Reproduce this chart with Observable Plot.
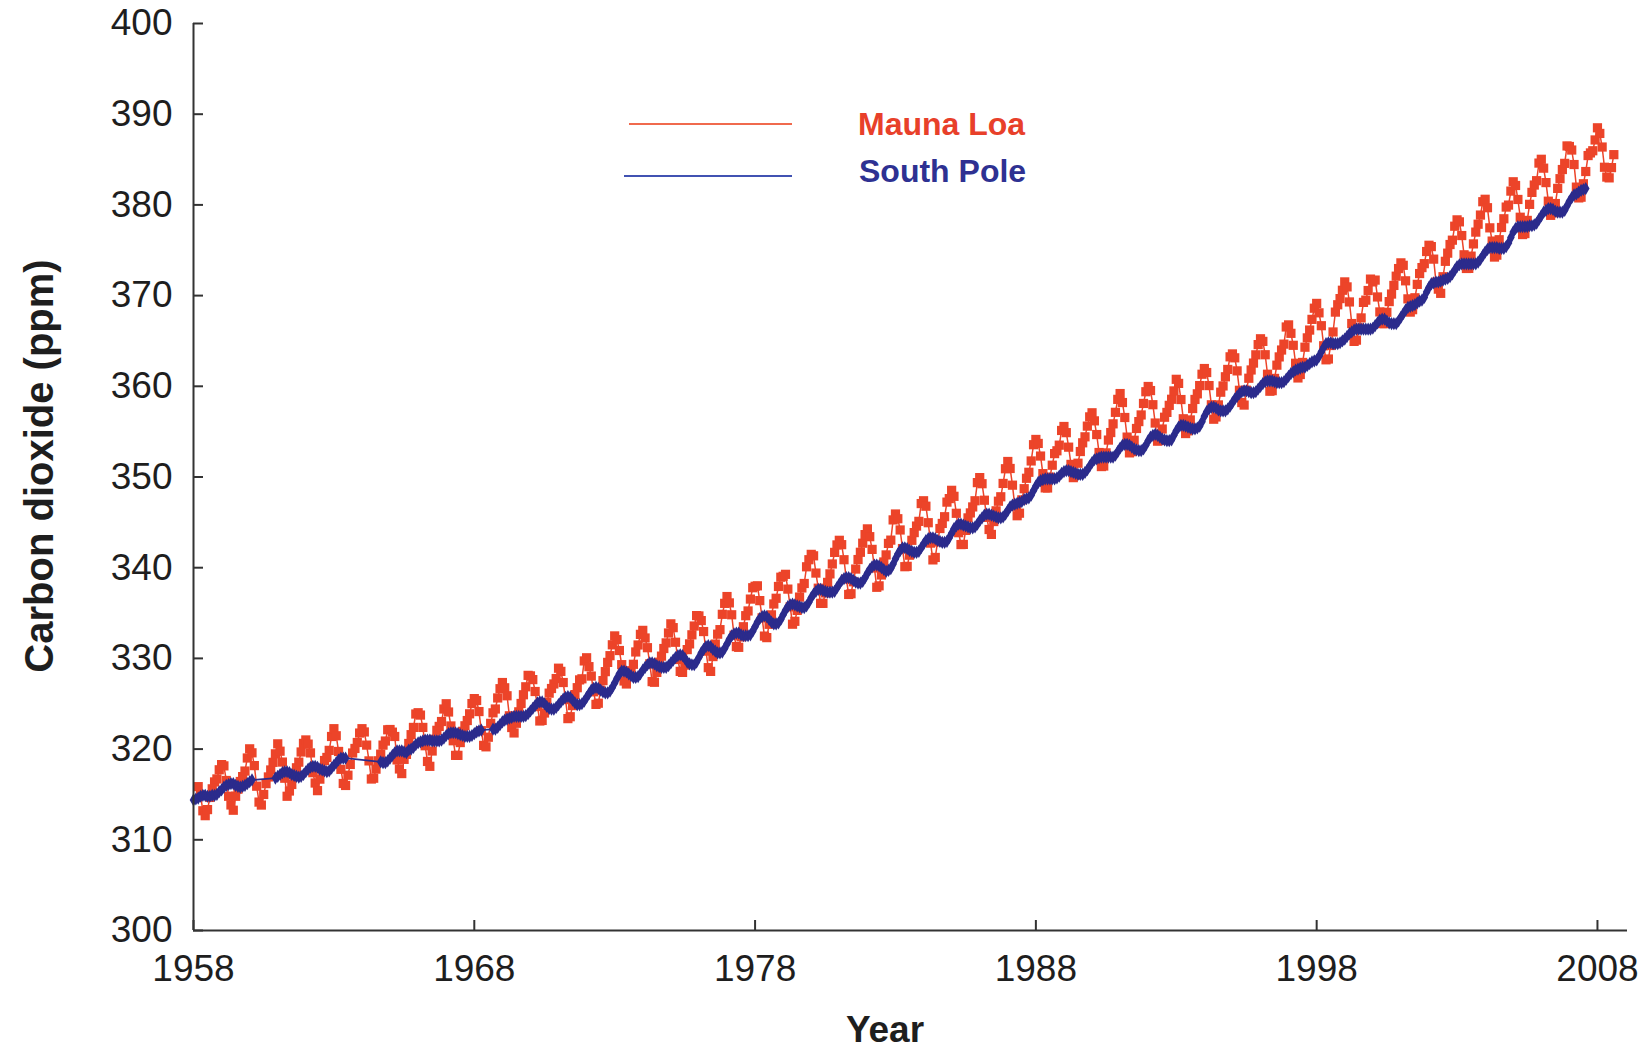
<!DOCTYPE html>
<html><head><meta charset="utf-8">
<script src="https://cdn.jsdelivr.net/npm/d3@7"></script>
<script src="https://cdn.jsdelivr.net/npm/@observablehq/plot@0.6"></script>
<style>
body{margin:0;background:#fff;}
#wrap{position:relative;width:1651px;height:1054px;font-family:"Liberation Sans",Arial,sans-serif;}
.t{position:absolute;white-space:nowrap;line-height:normal;}
.ln{position:absolute;height:2px;}
</style></head><body><div id="wrap"></div>
<script>
// Tick labels
const tickYears = [1958, 1968, 1978, 1988, 1998, 2008];
const yTicks = [300, 310, 320, 330, 340, 350, 360, 370, 380, 390, 400];
const seriesNames = ["Mauna Loa", "South Pole"];
const seriesColors = ["#ec4429", "#2b2b8c"];
const legendLineColors = ["#f06a4e", "#4152b2"];

// Mauna Loa monthly CO2 (ppm), from July 1958
const mloStart = {year: 1958, month: 7};
const mlo = [
315.86,314.93,313.20,312.66,313.33,314.67,
315.62,316.38,316.71,317.72,318.29,318.15,316.54,314.80,313.84,313.26,314.80,315.58,
316.43,316.97,317.58,319.02,320.03,319.59,318.18,315.91,314.16,313.83,315.00,316.19,
316.93,317.70,318.54,319.48,320.58,319.77,318.57,316.79,314.80,315.38,316.10,317.01,
317.94,318.56,319.68,320.63,321.01,320.55,319.58,317.40,316.26,315.42,316.69,317.69,
318.74,319.08,319.86,321.39,322.25,321.47,319.74,317.77,316.21,315.99,317.12,318.31,
319.57,320.07,320.73,321.77,322.25,321.89,320.44,318.70,316.70,316.79,317.79,318.71,
319.44,320.44,320.89,322.13,322.16,321.87,321.39,318.81,317.81,317.30,318.87,319.42,
320.62,321.59,322.39,323.87,324.01,323.75,322.39,320.37,318.64,318.10,319.79,321.08,
322.07,322.50,323.04,324.42,325.00,324.09,322.55,320.92,319.31,319.31,320.72,321.96,
322.57,323.15,323.89,325.02,325.57,325.36,324.14,322.03,320.41,320.25,321.31,322.84,
324.00,324.42,325.64,326.66,327.34,326.76,325.88,323.67,322.38,321.78,322.85,324.11,
325.03,325.99,326.87,328.13,328.07,327.66,326.35,324.69,323.10,323.16,323.98,325.13,
326.17,326.68,327.18,327.78,328.92,328.57,327.34,325.46,323.36,323.57,324.80,326.01,
326.77,327.63,327.75,329.72,330.07,329.09,328.05,326.32,324.93,325.06,326.50,327.55,
328.54,329.56,330.30,331.50,332.48,332.07,330.87,329.31,327.51,327.18,328.16,328.64,
329.35,330.71,331.48,332.65,333.09,332.25,331.18,329.40,327.44,327.37,328.46,329.58,
330.25,331.09,331.71,332.80,333.81,333.39,331.78,329.88,328.57,328.46,329.26,330.97,
331.60,332.60,333.57,334.72,334.68,334.17,332.96,330.80,328.98,328.57,330.20,331.58,
332.67,333.17,334.86,336.07,336.82,336.12,334.81,332.56,331.30,331.22,332.37,333.49,
334.71,335.23,336.54,337.79,337.95,338.00,336.37,334.47,332.46,332.29,333.76,334.80,
336.00,336.63,337.93,338.95,339.05,339.27,337.64,335.68,333.77,334.09,335.29,336.76,
337.77,338.26,340.10,340.88,341.47,341.31,339.41,337.74,336.07,336.07,337.22,338.38,
339.32,340.41,341.69,342.51,343.02,342.54,340.88,338.75,337.05,337.13,338.45,339.85,
340.90,341.70,342.70,343.65,344.28,343.42,342.02,339.97,337.84,338.00,339.20,340.63,
341.41,342.68,343.04,345.27,345.92,345.40,344.16,342.11,340.11,340.15,341.38,343.02,
343.87,344.59,345.11,347.07,347.38,346.78,344.96,342.71,340.86,341.13,342.84,344.32,
344.88,345.62,347.23,347.62,348.53,347.87,346.00,343.86,342.55,342.57,344.11,345.49,
346.04,346.70,347.38,349.38,349.93,349.26,347.44,345.55,344.21,343.67,345.09,346.27,
347.33,347.82,349.29,350.91,351.71,350.94,349.10,346.77,345.73,346.01,347.48,348.71,
349.86,350.52,351.77,353.56,354.14,353.70,352.31,350.37,348.80,348.79,349.99,351.30,
352.58,352.89,353.51,355.13,355.57,354.89,353.29,351.39,349.93,350.22,351.52,352.81,
353.77,354.43,355.61,356.63,357.08,356.19,354.68,352.70,351.15,351.21,352.66,354.07,
354.90,355.86,357.13,358.56,359.20,358.21,356.56,354.40,352.66,352.79,354.05,355.35,
356.11,356.84,358.11,359.40,359.98,359.53,357.97,355.95,353.95,354.03,355.29,356.59,
357.12,357.90,358.57,359.49,360.77,360.32,358.54,356.42,354.79,355.09,356.29,357.55,
358.55,359.17,360.08,361.33,361.96,361.52,360.08,357.96,356.37,356.62,357.95,359.35,
360.04,361.05,361.86,363.25,363.57,363.14,361.70,359.56,358.21,357.93,359.57,360.89,
361.80,362.56,363.47,364.60,365.24,364.95,363.48,361.33,359.46,359.52,360.87,362.33,
363.24,364.00,364.65,366.54,366.77,365.84,364.52,362.54,360.92,361.30,362.63,364.31,
365.34,366.20,367.38,368.61,369.14,368.10,366.68,364.47,362.92,363.01,364.50,365.99,
368.18,368.99,369.67,370.59,371.51,370.96,369.30,366.92,364.95,365.09,366.44,367.54,
369.25,369.50,370.56,371.82,371.51,371.71,369.85,368.20,366.91,366.91,368.16,369.34,
370.17,371.12,372.14,372.98,373.61,373.34,371.63,369.64,368.18,368.45,369.76,371.24,
372.43,373.09,373.52,374.86,375.55,375.40,374.02,371.49,370.71,370.25,372.08,373.78,
374.68,375.63,376.11,377.65,378.35,378.13,376.62,374.50,372.99,373.00,374.35,375.70,
377.00,377.87,378.88,380.35,380.62,379.69,377.47,376.01,374.25,374.46,376.16,377.51,
378.47,379.76,379.98,381.52,382.55,382.14,380.60,378.64,376.73,376.84,378.29,380.06,
381.38,382.19,382.67,384.61,385.03,384.05,382.46,380.41,378.85,379.13,380.15,381.82,
382.89,383.90,384.58,386.50,386.44,386.05,384.45,381.96,380.77,380.85,382.33,383.68,
385.44,385.73,385.97,387.16,388.50,387.88,386.38,384.15,383.07,382.98,384.11,385.54
];

// South Pole monthly CO2 (ppm), from May 1958 (null = no measurement)
const spoStart = {year: 1958, month: 5};
const spo = [
314.4,314.5,314.6,314.8,314.9,314.9,314.8,314.8,
314.9,314.9,315.0,315.3,315.5,315.8,316.0,316.1,316.2,316.2,316.0,315.9,
315.8,315.9,316.0,316.2,316.4,316.6,null,null,null,null,null,null,
null,null,null,316.8,317.0,317.2,317.4,317.5,317.5,317.4,317.2,317.1,
317.0,316.9,317.0,317.2,317.5,317.8,318.0,318.1,318.1,318.0,317.8,317.7,
317.6,317.5,317.6,317.9,318.2,318.5,318.8,319.0,319.0,319.0,null,null,
null,null,null,null,null,null,null,null,null,null,null,null,
318.6,318.5,318.5,318.7,319.0,319.3,319.6,319.8,319.8,319.8,319.7,319.6,
319.9,320.0,320.2,320.5,320.7,320.8,320.9,321.0,321.0,321.0,320.9,320.9,
320.9,320.9,321.0,321.2,321.5,321.7,321.8,321.8,321.8,321.7,321.6,321.5,
321.4,321.4,321.4,321.5,321.7,321.9,322.0,322.1,null,null,null,null,
322.2,322.2,322.4,322.7,323.0,323.2,323.3,323.4,323.5,323.6,323.6,323.6,
323.6,323.6,323.7,323.9,324.2,324.5,324.8,325.1,325.2,325.2,325.0,324.7,
324.5,324.4,324.4,324.6,324.9,325.2,325.5,325.7,325.8,325.7,325.4,325.1,
324.9,324.9,325.0,325.3,325.7,326.1,326.5,326.7,326.8,326.7,326.5,326.3,
326.2,326.2,326.4,326.8,327.3,327.8,328.3,328.6,328.6,328.5,328.3,328.1,
327.9,327.9,328.0,328.3,328.7,329.0,329.3,329.5,329.5,329.4,329.2,329.1,
329.0,329.0,329.0,329.2,329.5,329.8,330.1,330.3,330.4,330.3,330.0,329.6,
329.4,329.3,329.3,329.6,330.1,330.6,331.0,331.3,331.4,331.3,331.0,330.8,
330.6,330.6,330.7,331.1,331.6,332.1,332.5,332.7,332.8,332.8,332.6,332.5,
332.5,332.5,332.6,333.0,333.5,334.0,334.4,334.6,334.7,334.6,334.3,334.0,
333.8,333.8,333.9,334.3,334.8,335.3,335.7,335.9,336.0,335.9,335.8,335.7,
335.6,335.6,335.8,336.2,336.7,337.1,337.4,337.6,337.6,337.5,337.4,337.3,
337.3,337.3,337.4,337.8,338.2,338.6,338.8,338.9,338.9,338.8,338.6,338.4,
338.3,338.3,338.5,338.9,339.4,339.8,340.1,340.3,340.3,340.2,340.0,339.8,
339.6,339.7,339.9,340.4,341.0,341.5,341.9,342.2,342.2,342.1,341.9,341.8,
341.7,341.7,341.8,342.2,342.6,343.0,343.2,343.3,343.3,343.2,343.0,342.9,
342.8,342.8,342.9,343.3,343.8,344.3,344.6,344.8,344.8,344.7,344.6,344.5,
344.4,344.4,344.5,344.8,345.2,345.5,345.8,345.9,345.9,345.8,345.7,345.6,
345.5,345.5,345.6,345.9,346.3,346.7,346.9,347.0,347.1,347.2,347.3,347.5,
347.6,347.7,348.0,348.5,349.0,349.4,349.6,349.7,349.8,349.8,349.8,349.8,
349.8,349.9,350.1,350.4,350.6,350.7,350.7,350.6,350.5,350.4,350.3,350.3,
350.3,350.5,350.8,351.2,351.6,351.9,352.0,352.1,352.2,352.2,352.2,352.2,
352.2,352.2,352.4,352.8,353.2,353.5,353.6,353.6,353.5,353.3,353.1,353.0,
352.9,352.9,353.1,353.5,354.0,354.4,354.6,354.7,354.6,354.4,354.2,354.1,
354.0,354.0,354.1,354.6,355.1,355.5,355.7,355.7,355.6,355.5,355.4,355.3,
355.3,355.4,355.6,356.1,356.7,357.2,357.5,357.7,357.7,357.6,357.4,357.3,
357.3,357.3,357.5,357.8,358.2,358.6,358.9,359.2,359.4,359.5,359.5,359.4,
359.3,359.3,359.4,359.7,360.0,360.3,360.5,360.6,360.6,360.6,360.5,360.4,
360.4,360.4,360.5,360.8,361.1,361.4,361.6,361.8,361.9,362.0,362.1,362.1,
362.3,362.5,362.7,362.8,362.9,363.3,363.8,364.3,364.7,364.8,364.8,364.7,
364.7,364.7,364.8,365.0,365.2,365.5,365.8,366.0,366.2,366.3,366.3,366.3,
366.3,366.3,366.3,366.3,366.4,366.7,367.0,367.3,367.4,367.4,367.2,367.0,
366.9,366.9,366.9,367.2,367.6,368.0,368.4,368.7,368.8,368.9,369.0,369.2,
369.4,369.5,369.8,370.4,370.9,371.3,371.4,371.5,371.5,371.6,371.7,371.8,
371.9,372.1,372.4,372.8,373.2,373.4,373.5,373.5,373.5,373.5,373.5,373.5,
373.5,373.7,374.0,374.4,374.8,375.1,375.3,375.3,375.3,375.3,375.2,375.2,
375.2,375.4,375.8,376.4,377.0,377.4,377.6,377.6,377.6,377.6,377.6,377.7,
377.7,377.8,378.0,378.4,378.8,379.2,379.4,379.6,379.6,379.5,379.3,379.2,
379.2,379.2,379.4,379.9,380.4,380.8,381.1,381.2,381.4,381.6,381.7,381.8
];

// Category-style time axis: May 1958 sits on the "1958" tick, one step per month
function toRows(start, arr) {
  return arr.map((v, i) => {
    const k = start.month - 1 + i;
    const year = start.year + Math.floor(k / 12);
    const month = (k % 12) + 1;
    return {x: year + (month - 5) / 12, v};
  });
}
const mloRows = toRows(mloStart, mlo);
const spoRows = toRows(spoStart, spo).filter(d => d.v != null);

const font = '"Liberation Sans", Arial, sans-serif';
const chart = Plot.plot({
  width: 1651, height: 1054,
  marginLeft: 193, marginRight: 24, marginTop: 23, marginBottom: 124,
  style: {fontFamily: font, fontSize: "37px", color: "#1e1e1e", background: "white"},
  x: {domain: [1958, 2009.07], label: null},
  y: {domain: [300, 400], label: null},
  marks: [
    Plot.line(mloRows, {x: "x", y: "v", stroke: seriesColors[0], strokeWidth: 1.5}),
    Plot.dot(mloRows, {x: "x", y: "v", symbol: "square", r: 5.2, fill: seriesColors[0]}),
    Plot.line(spoRows, {x: "x", y: "v", stroke: seriesColors[1], strokeWidth: 1.8}),
    Plot.dot(spoRows, {x: "x", y: "v", symbol: "diamond", r: 4, fill: seriesColors[1]}),
    Plot.ruleX([1958], {stroke: "#333", strokeWidth: 2}),
    Plot.ruleY([300], {stroke: "#333", strokeWidth: 2}),
    Plot.axisY(yTicks, {tickSize: -10, tickPadding: 31, stroke: "#333", strokeWidth: 2, fontSize: 37, label: null, tickFormat: d => String(d)}),
    Plot.axisX(tickYears, {tickSize: -10, tickPadding: 34, stroke: "#333", strokeWidth: 2, fontSize: 37, label: null, tickFormat: d => String(d)})
  ]
});

const wrap = document.getElementById("wrap");
wrap.appendChild(chart);

function addText(txt, css) {
  const d = document.createElement("div");
  d.className = "t";
  d.textContent = txt;
  Object.assign(d.style, css);
  wrap.appendChild(d);
}
function addLine(css) {
  const d = document.createElement("div");
  d.className = "ln";
  Object.assign(d.style, css);
  wrap.appendChild(d);
}
// axis titles
addText("Carbon dioxide (ppm)", {left: "39px", top: "466px", fontSize: "40px", fontWeight: "bold", color: "#1e1e1e", transform: "translate(-50%,-50%) rotate(-90deg)"});
addText("Year", {left: "885px", top: "1030px", fontSize: "37px", fontWeight: "bold", color: "#1e1e1e", transform: "translate(-50%,-50%)"});
// legend
addLine({left: "629px", width: "163px", top: "123px", background: legendLineColors[0]});
addLine({left: "624px", width: "168px", top: "175px", background: legendLineColors[1]});
addText(seriesNames[0], {left: "858px", top: "124px", fontSize: "32px", fontWeight: "bold", color: "#e8402a", transform: "translateY(-50%)"});
addText(seriesNames[1], {left: "859px", top: "171px", fontSize: "32px", fontWeight: "bold", color: "#2e3192", transform: "translateY(-50%)"});
</script>
</body></html>
